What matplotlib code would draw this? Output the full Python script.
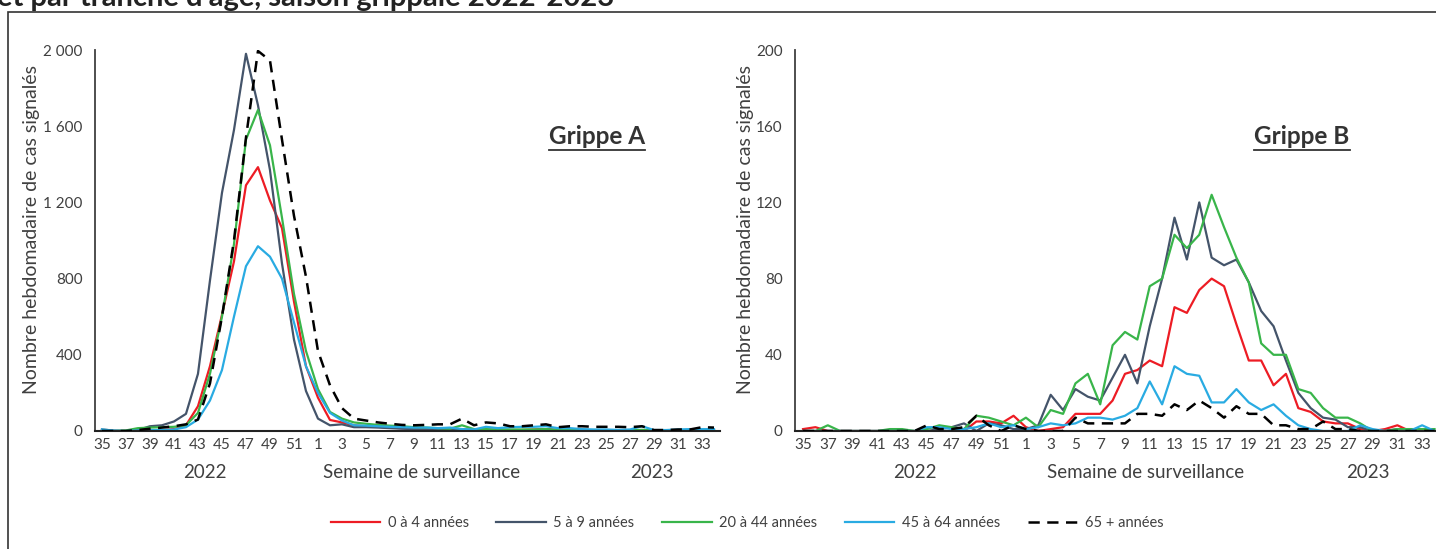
import matplotlib
matplotlib.use('Agg')
import matplotlib.pyplot as plt
from matplotlib.lines import Line2D
from matplotlib.patches import Rectangle

# surveillance weeks: 35..52 of 2022 then 1..34 of 2023
weeks = list(range(35, 53)) + list(range(1, 35))
tick_labels = [str(w) for w in weeks[::2]]

age_groups = ['0 à 4 années', '5 à 9 années', '20 à 44 années', '45 à 64 années', '65 + années']
colors = ['#ED1C24', '#44546A', '#39B54A', '#29ABE2', '#000000']

# Grippe A
fluA_0_4 = [2, 0, 0, 2, 3, 5, 10, 30, 130, 340, 610, 890, 1290, 1385, 1210, 1065, 680, 340,
            175, 58, 45, 30, 25, 22, 18, 15, 12, 10, 8, 8, 10, 5, 6, 6, 5, 5, 8, 10,
            5, 5, 4, 4, 3, 3, 3, 5, 2, 2, 2, 2, 2, 2]
fluA_5_9 = [8, 2, 0, 5, 25, 30, 50, 90, 300, 790, 1250, 1580, 1980, 1710, 1370, 880, 480, 210,
            65, 30, 35, 20, 20, 18, 15, 12, 10, 8, 5, 5, 5, 3, 5, 5, 5, 5, 5, 8,
            5, 4, 3, 3, 3, 3, 3, 4, 2, 2, 2, 2, 2, 2]
fluA_20_44 = [0, 0, 3, 15, 18, 20, 22, 30, 95, 300, 600, 980, 1530, 1685, 1500, 1120, 720, 420,
              220, 100, 65, 45, 38, 32, 28, 25, 20, 18, 15, 12, 30, 10, 10, 8, 8, 8, 8, 10,
              6, 6, 5, 5, 4, 4, 4, 6, 3, 3, 3, 3, 3, 3]
fluA_45_64 = [8, 2, 0, 3, 5, 5, 8, 20, 60, 160, 320, 600, 865, 970, 915, 800, 570, 340,
              200, 95, 55, 30, 28, 25, 22, 20, 18, 18, 15, 18, 10, 8, 22, 15, 20, 22, 22, 25,
              15, 15, 10, 8, 8, 6, 8, 25, 5, 5, 8, 10, 10, 10]
fluA_65 = [0, 0, 0, 5, 12, 18, 25, 35, 60, 250, 600, 1000, 1540, 1995, 1945, 1530, 1130, 810,
           420, 240, 120, 65, 55, 45, 38, 32, 30, 32, 35, 35, 65, 30, 45, 40, 25, 25, 30, 35,
           20, 25, 25, 22, 22, 22, 20, 25, 5, 5, 8, 8, 20, 18]

# Grippe B
fluB_0_4 = [1, 2, 0, 0, 0, 0, 0, 0, 0, 0, 0, 0, 0, 0, 5, 5, 4, 8,
            2, 0, 1, 2, 9, 9, 9, 16, 30, 32, 37, 34, 65, 62, 74, 80, 76, 56, 37, 37,
            24, 30, 12, 10, 5, 4, 4, 1, 0, 1, 3, 0, 1, 0]
fluB_5_9 = [0, 0, 0, 0, 0, 0, 0, 0, 0, 0, 0, 1, 2, 4, 0, 4, 3, 1,
            1, 3, 19, 11, 22, 18, 16, 28, 40, 25, 55, 80, 112, 90, 120, 91, 87, 90, 78, 63,
            55, 37, 20, 12, 7, 6, 2, 2, 0, 0, 1, 0, 1, 0]
fluB_20_44 = [0, 0, 3, 0, 0, 0, 0, 1, 1, 0, 1, 3, 2, 1, 8, 7, 5, 3,
              7, 2, 11, 9, 25, 30, 14, 45, 52, 48, 76, 80, 103, 96, 103, 124, 107, 91, 78, 46,
              40, 40, 22, 20, 12, 7, 7, 4, 0, 0, 1, 1, 1, 1]
fluB_45_64 = [0, 0, 0, 0, 0, 0, 0, 0, 0, 0, 2, 2, 1, 1, 2, 4, 2, 3,
              1, 2, 4, 3, 4, 7, 7, 6, 8, 12, 26, 14, 34, 30, 29, 15, 15, 22, 15, 11,
              14, 8, 3, 1, 0, 0, 0, 3, 1, 0, 0, 0, 3, 0]
fluB_65 = [0, 0, 0, 0, 0, 0, 0, 0, 0, 0, 3, 1, 1, 2, 8, 3, 0, 3,
           1, 0, 0, 0, 7, 4, 4, 4, 4, 9, 9, 8, 14, 11, 16, 12, 7, 13, 9, 9,
           3, 3, 1, 1, 5, 1, 1, 0, 0, 0, 0, 0, 0, 0]

seriesA = [fluA_0_4, fluA_5_9, fluA_20_44, fluA_45_64, fluA_65]
seriesB = [fluB_0_4, fluB_5_9, fluB_20_44, fluB_45_64, fluB_65]

W, H = 1436, 549
fig = plt.figure(figsize=(W / 100, H / 100), dpi=100)

TXT = '#404040'
REG = ['Lato', 'DejaVu Sans']


def px(x, y):
    return x / W, 1 - y / H


# outer frame and cut-off title
fig.add_artist(Rectangle(px(8, 600), 2, (600 - 12) / H, transform=fig.transFigure,
                         fill=False, edgecolor='#333333', lw=1.2))
fig.text(-0.002, 1 - 6 / H, "et par tranche d'âge, saison grippale 2022-2023",
         fontsize=21, fontweight='bold', family=REG, color='#222222', va='baseline')

axA = fig.add_axes([95 / W, 1 - 431 / H, 625 / W, 381 / H])
axB = fig.add_axes([795 / W, 1 - 431 / H, 642 / W, 381 / H])

x = list(range(len(weeks)))


def style(ax, ymax, step, xlim):
    ax.set_xlim(*xlim)
    ax.set_ylim(0, ymax)
    yt = list(range(0, ymax + 1, step))
    ax.set_yticks(yt)
    ax.set_yticklabels([f'{v:,}'.replace(',', ' ') for v in yt], family=REG, fontsize=11, color=TXT)
    ax.set_xticks(x[::2])
    ax.set_xticklabels(tick_labels, family=REG, fontsize=11, color=TXT)
    ax.tick_params(axis='both', length=0)
    ax.tick_params(axis='y', pad=9)
    ax.tick_params(axis='x', pad=5)
    for s in ['top', 'right']:
        ax.spines[s].set_visible(False)
    ax.spines['left'].set_color('#404040')
    ax.spines['bottom'].set_color('#222222')
    ax.spines['left'].set_linewidth(1.3)
    ax.spines['bottom'].set_linewidth(1.5)
    ax.patch.set_alpha(0)


def draw(ax, series):
    lines = []
    for vals, c, lab in zip(series, colors, age_groups):
        if c == '#000000':
            l, = ax.plot(x, vals, color=c, lw=1.8, ls=(0, (4.5, 3)), label=lab, zorder=3)
        else:
            l, = ax.plot(x, vals, color=c, lw=1.6, label=lab, zorder=2)
        lines.append(l)
    return lines


handles = draw(axA, seriesA)
draw(axB, seriesB)
style(axA, 2000, 400, (-0.58, 51.5))
style(axB, 200, 40, (-0.65, 51.2))

# y labels
for xc in (32, 745):
    fig.text(*px(xc, 230), 'Nombre hebdomadaire de cas signalés', rotation=90,
             ha='center', va='center', fontsize=14, family=REG, color=TXT)

# x sub-labels
for xc, t in [(205, '2022'), (422, 'Semaine de surveillance'), (652, '2023'),
              (915, '2022'), (1146, 'Semaine de surveillance'), (1368, '2023')]:
    fig.text(*px(xc, 473), t, ha='center', va='center', fontsize=13.5, family=REG, color=TXT)

# panel titles, underlined
titles = []
for xc, t in [(597, 'Grippe A'), (1302, 'Grippe B')]:
    titles.append(fig.text(*px(xc, 137), t, ha='center', va='center', fontsize=17.5,
                           fontweight='bold', family=REG, color='#333333'))
fig.canvas.draw()
r = fig.canvas.get_renderer()
for t in titles:
    bb = t.get_window_extent(r)
    yb = (bb.y0 - 1) / H
    fig.add_artist(Line2D([bb.x0 / W, bb.x1 / W], [yb, yb], transform=fig.transFigure,
                          color='#333333', lw=1.3))

fig.legend(handles=handles, loc='center', bbox_to_anchor=(747 / W, 1 - 523 / H), ncol=5,
           frameon=False, handlelength=3.4, handletextpad=0.5, columnspacing=1.9,
           prop={'family': REG, 'size': 10.5}, labelcolor=TXT)

fig.savefig('out.png', dpi=100)
